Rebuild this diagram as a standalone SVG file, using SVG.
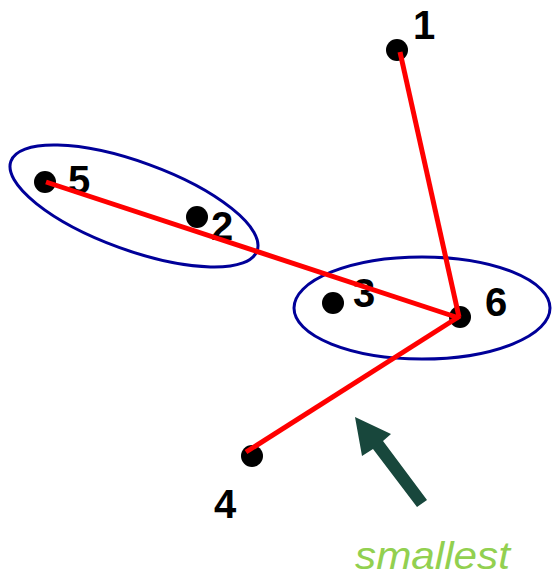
<svg xmlns="http://www.w3.org/2000/svg" width="552" height="579" viewBox="0 0 552 579">
<style>
.cl{fill:none;stroke:#000099;stroke-width:3}
.dot{fill:#000}
.lbl{font-family:"Liberation Sans",Arial,sans-serif;font-weight:bold;font-size:40px;fill:#000}
.edge{stroke:#ff0000;stroke-width:5;stroke-linecap:butt}
</style>
<rect width="552" height="579" fill="#fff"/>
<g id="clusters">
<ellipse id="cluster-52" class="cl" cx="134" cy="206" rx="131" ry="44" transform="rotate(20 134 206)"/>
<ellipse id="cluster-36" class="cl" cx="422" cy="308" rx="128" ry="51"/>
</g>
<g id="node-1"><circle class="dot" cx="397" cy="50" r="11"/><text class="lbl" x="413" y="39">1</text></g>
<g id="node-2"><circle class="dot" cx="197" cy="217" r="11"/><text class="lbl" x="211" y="240">2</text></g>
<g id="node-3"><circle class="dot" cx="333" cy="303" r="11"/><text class="lbl" x="353" y="307">3</text></g>
<g id="node-4"><circle class="dot" cx="252" cy="456" r="11"/><text class="lbl" x="214" y="518">4</text></g>
<g id="node-5"><circle class="dot" cx="45" cy="182" r="11"/><text class="lbl" x="68" y="194">5</text></g>
<g id="node-6"><circle class="dot" cx="460" cy="317" r="11"/><text class="lbl" x="485" y="316">6</text></g>
<g id="connectors">
<line class="edge" x1="400" y1="52" x2="459" y2="317"/>
<line class="edge" x1="46" y1="182" x2="459" y2="318"/>
<line class="edge" x1="246" y1="452" x2="460" y2="316"/>
</g>
<g id="pointer">
<polygon points="355,417 391,434 383,441 427,500 417,507 373,449 362,456" fill="#18473c"/>
<text x="355" y="569" font-family="'Liberation Sans',Arial,sans-serif" font-style="italic" font-size="38" fill="#92d050" textLength="155" lengthAdjust="spacingAndGlyphs">smallest</text>
</g>
</svg>
